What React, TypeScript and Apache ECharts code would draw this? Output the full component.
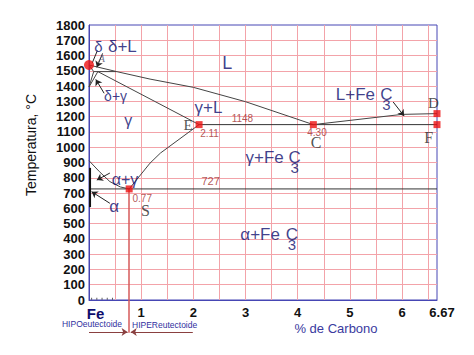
import React, { useEffect, useRef } from 'react';
import * as echarts from 'echarts';

// ---- data (carbon %, temperature °C) ----
const liquidus = [[0, 1538], [0.53, 1495], [1.17, 1446], [2, 1392], [3, 1298], [4.3, 1148]];
const deltaSolidus = [[0, 1538], [0.09, 1495]];
const peritectic = [[0.09, 1495], [0.53, 1495]];
const gammaSolidus = [[0.17, 1495], [2.11, 1148]];
const deltaLimitA = [[0, 1394], [0.09, 1495]];
const deltaLimitB = [[0, 1394], [0.17, 1495]];
const lineGS = [[0, 912], [0.2, 840], [0.4, 775], [0.6, 740], [0.77, 727]];
const lineES = [[0.77, 727], [1.17, 896], [1.37, 962], [2.11, 1148]];
const eutectic = [[2.11, 1148], [6.67, 1148]];
const eutectoid = [[0, 727], [6.67, 727]];
const lineCD = [[4.3, 1148], [6.0, 1215], [6.67, 1220]];
const ferriteLimit = [[0.02, 865], [0.02, 608]];
const eutectoidComp = [[0.77, 727], [0.77, -215]];

const pointsSquare = [[2.11, 1148], [4.3, 1148], [0.77, 727], [6.67, 1220], [6.67, 1148]];
const pointsRound = [[0, 1538]];
const fineTicks = [0.05, 0.15, 0.25, 0.35, 0.45];

const arrows = [
  [[0.26, 1614], [0.15, 1523]],
  [[0.29, 1353], [0.13, 1444]],
  [[0.40, 831], [0.15, 785]],
  [[0.40, 633], [0.05, 709]],
  [[5.83, 1296], [6.04, 1204]],
];
const plainPointers = [[[0.16, 1632], [0.06, 1550]]];
const bracketLeft = [[0, -209], [0.74, -209]];
const bracketRight = [[1.99, -209], [0.8, -209]];

const xLabelValues = [1, 2, 3, 4, 5, 6, 6.67];
const yMin = 0, yMax = 1800, yStep = 100;
const xMin = 0, xMax = 6.67, xStep = 0.5;

const NAVY = '#0e0e6e';
const BROWN = '#a02c2c';
const DARK = '#262626';

type Lbl = { t: string; c: number; T: number; size: number; col?: string; font?: string; align?: string; italic?: boolean };
const labels: Lbl[] = [
  { t: 'L', c: 2.65, T: 1551, size: 18 },
  { t: 'δ', c: 0.18, T: 1662, size: 15 },
  { t: 'δ+L', c: 0.64, T: 1659, size: 17 },
  { t: 'A', c: 0.24, T: 1584, size: 11, col: '#555577', font: 'Liberation Serif', italic: true },
  { t: 'δ+γ', c: 0.51, T: 1335, size: 14 },
  { t: 'γ', c: 0.75, T: 1172, size: 16 },
  { t: 'γ+L', c: 2.29, T: 1257, size: 17 },
  { t: '1148', c: 2.94, T: 1191, size: 10, col: BROWN },
  { t: 'E', c: 1.90, T: 1145, size: 15, col: DARK, font: 'Liberation Serif' },
  { t: '2.11', c: 2.31, T: 1090, size: 10, col: BROWN },
  { t: '4.30', c: 4.37, T: 1096, size: 10, col: BROWN },
  { t: 'C', c: 4.35, T: 1028, size: 16, col: DARK, font: 'Liberation Serif' },
  { t: 'F', c: 6.51, T: 1064, size: 16, col: DARK, font: 'Liberation Serif' },
  { t: 'D', c: 6.60, T: 1289, size: 15, col: DARK, font: 'Liberation Serif' },
  { t: 'L+Fe', c: 4.73, T: 1342, size: 17, align: 'left' },
  { t: '{a|C}\n{b|3}', c: 5.70, T: 1316, size: 17 },
  { t: 'γ+Fe', c: 3.0, T: 933, size: 17, align: 'left' },
  { t: '{a|C}\n{b|3}', c: 3.94, T: 906, size: 17 },
  { t: 'α+Fe', c: 2.90, T: 429, size: 17, align: 'left' },
  { t: '{a|C}\n{b|3}', c: 3.89, T: 403, size: 17 },
  { t: '727', c: 2.33, T: 779, size: 11, col: BROWN },
  { t: '0.77', c: 1.02, T: 664, size: 10, col: BROWN },
  { t: 'S', c: 1.08, T: 589, size: 16, col: DARK, font: 'Liberation Serif' },
  { t: 'α+γ', c: 0.69, T: 790, size: 16 },
  { t: 'α', c: 0.48, T: 615, size: 17 },
];

function lineSeries(data: number[][], color = '#444', width = 1, z = 5) {
  return {
    type: 'line', data, symbol: 'none', silent: true, z,
    lineStyle: { color, width }, smooth: false,
  };
}

export default function App() {
  const ref = useRef<HTMLDivElement>(null);
  useEffect(() => {
    if (!ref.current) return;
    const chart = echarts.init(ref.current, null, { renderer: 'svg' });
    const option: any = {
      animation: false,
      grid: { left: 89, right: 37, top: 25, bottom: 55, show: true, borderColor: '#4646b4', borderWidth: 1 },
      xAxis: {
        type: 'value', min: xMin, max: xMax, interval: xStep,
        axisLine: { show: true, lineStyle: { color: '#4646b4', width: 1 } },
        axisTick: { show: false },
        splitLine: { show: true, showMinLine: false, showMaxLine: false, lineStyle: { color: '#f3a3a9', width: 1 } },
        axisLabel: {
          margin: 6, fontSize: 13, fontWeight: 'bold', color: '#111', fontFamily: 'Liberation Sans',
          showMinLabel: true, showMaxLabel: true,
          formatter: (v: number) => {
            if (v === 0) return '{fe|Fe}';
            const hit = xLabelValues.find((x) => Math.abs(x - v) < 1e-6);
            if (hit === undefined) return '';
            if (hit === 6.67) return '{end|6.67}';
            return String(hit);
          },
          rich: {
            fe: { fontSize: 15, fontWeight: 'bold', color: NAVY, fontFamily: 'Liberation Sans', padding: [0, 0, 0, 13] },
            end: { fontSize: 13, fontWeight: 'bold', color: '#111', fontFamily: 'Liberation Sans', padding: [0, 0, 0, 10] },
          },
        },
      },
      yAxis: {
        type: 'value', min: yMin, max: yMax, interval: yStep,
        axisLine: { show: true, lineStyle: { color: '#4646b4', width: 1 } },
        axisTick: { show: false },
        splitLine: { show: true, showMinLine: false, showMaxLine: false, lineStyle: { color: '#f3a3a9', width: 1 } },
        axisLabel: {
          margin: 4, fontSize: 13, fontWeight: 'bold', color: '#111', fontFamily: 'Liberation Sans',
          formatter: (v: number) => String(v),
        },
      },
      graphic: [
        { type: 'text', x: 31, y: 145, rotation: Math.PI / 2, style: { text: 'Temperatura, °C', fontSize: 14, fontFamily: 'Liberation Sans', fill: '#111', align: 'center', verticalAlign: 'middle' } },
        { type: 'text', x: 336, y: 328, style: { text: '% de Carbono', fontSize: 13, fontFamily: 'Liberation Sans', fill: '#3a3aa0', align: 'center', verticalAlign: 'middle' } },
        { type: 'text', x: 122, y: 324, style: { text: 'HIPOeutectoide', fontSize: 8.5, fontFamily: 'Liberation Sans', fill: '#3030a0', align: 'right', verticalAlign: 'middle' } },
        { type: 'text', x: 132, y: 325, style: { text: 'HIPEReutectoide', fontSize: 8.5, fontFamily: 'Liberation Sans', fill: '#3030a0', align: 'left', verticalAlign: 'middle' } },
      ],
      series: [
        lineSeries(liquidus),
        lineSeries(deltaSolidus),
        lineSeries(peritectic),
        lineSeries(gammaSolidus),
        lineSeries(deltaLimitA),
        lineSeries(deltaLimitB),
        lineSeries(lineGS),
        lineSeries(lineES),
        lineSeries(eutectic, '#333', 1),
        lineSeries(eutectoid, '#333', 1),
        lineSeries(lineCD),
        lineSeries(ferriteLimit, '#111', 2),
        {
          type: 'lines', coordinateSystem: 'cartesian2d', clip: false, silent: true, z: 4,
          lineStyle: { color: '#d65a5a', width: 1.5, opacity: 1 },
          data: [{ coords: eutectoidComp }],
        },
        {
          type: 'lines', coordinateSystem: 'cartesian2d', clip: false, silent: true, z: 6,
          symbol: ['none', 'arrow'], symbolSize: 6,
          lineStyle: { color: '#222', width: 1, opacity: 1 },
          data: arrows.map((a) => ({ coords: a })),
        },
        {
          type: 'lines', coordinateSystem: 'cartesian2d', clip: false, silent: true, z: 6,
          lineStyle: { color: '#222', width: 1, opacity: 1 },
          data: plainPointers.map((a) => ({ coords: a })),
        },
        {
          type: 'lines', coordinateSystem: 'cartesian2d', clip: false, silent: true, z: 6,
          symbol: ['none', 'arrow'], symbolSize: 6,
          lineStyle: { color: '#8a4040', width: 1, opacity: 1 },
          data: [{ coords: bracketLeft }, { coords: bracketRight }],
        },
        {
          type: 'scatter', silent: true, z: 5, symbol: 'rect', symbolSize: [1, 2],
          itemStyle: { color: '#333' },
          data: fineTicks.map((c) => [c, 8]),
        },
        {
          type: 'scatter', silent: true, z: 8, symbol: 'rect', symbolSize: 7,
          itemStyle: { color: '#ee1111' }, data: pointsSquare,
        },
        {
          type: 'scatter', silent: true, z: 8, symbol: 'circle', symbolSize: 10, clip: false,
          itemStyle: { color: '#ee1111' }, data: pointsRound,
        },
        {
          type: 'scatter', silent: true, z: 9, symbolSize: 0,
          itemStyle: { color: 'transparent' },
          data: labels.map((l) => ({
            value: [l.c, l.T],
            label: {
              show: true, position: 'inside', formatter: l.t,
              fontSize: l.size, lineHeight: Math.round(l.size * 0.9), color: l.col || NAVY,
              fontFamily: l.font || 'Liberation Sans',
              fontStyle: l.italic ? 'italic' : 'normal',
              textBorderWidth: 0, textBorderColor: 'transparent',
              align: l.align || 'center', verticalAlign: 'middle',
              rich: {
                a: { fontSize: 17, lineHeight: 12, color: NAVY, fontFamily: 'Liberation Sans', align: 'center' },
                b: { fontSize: 15, lineHeight: 8, color: NAVY, fontFamily: 'Liberation Sans', align: 'center' },
              },
            },
          })),
        },
      ],
    };
    chart.setOption(option);
    return () => chart.dispose();
  }, []);
  return <div ref={ref} style={{ position: 'absolute', left: 0, top: 0, width: 474, height: 355 }} />;
}
